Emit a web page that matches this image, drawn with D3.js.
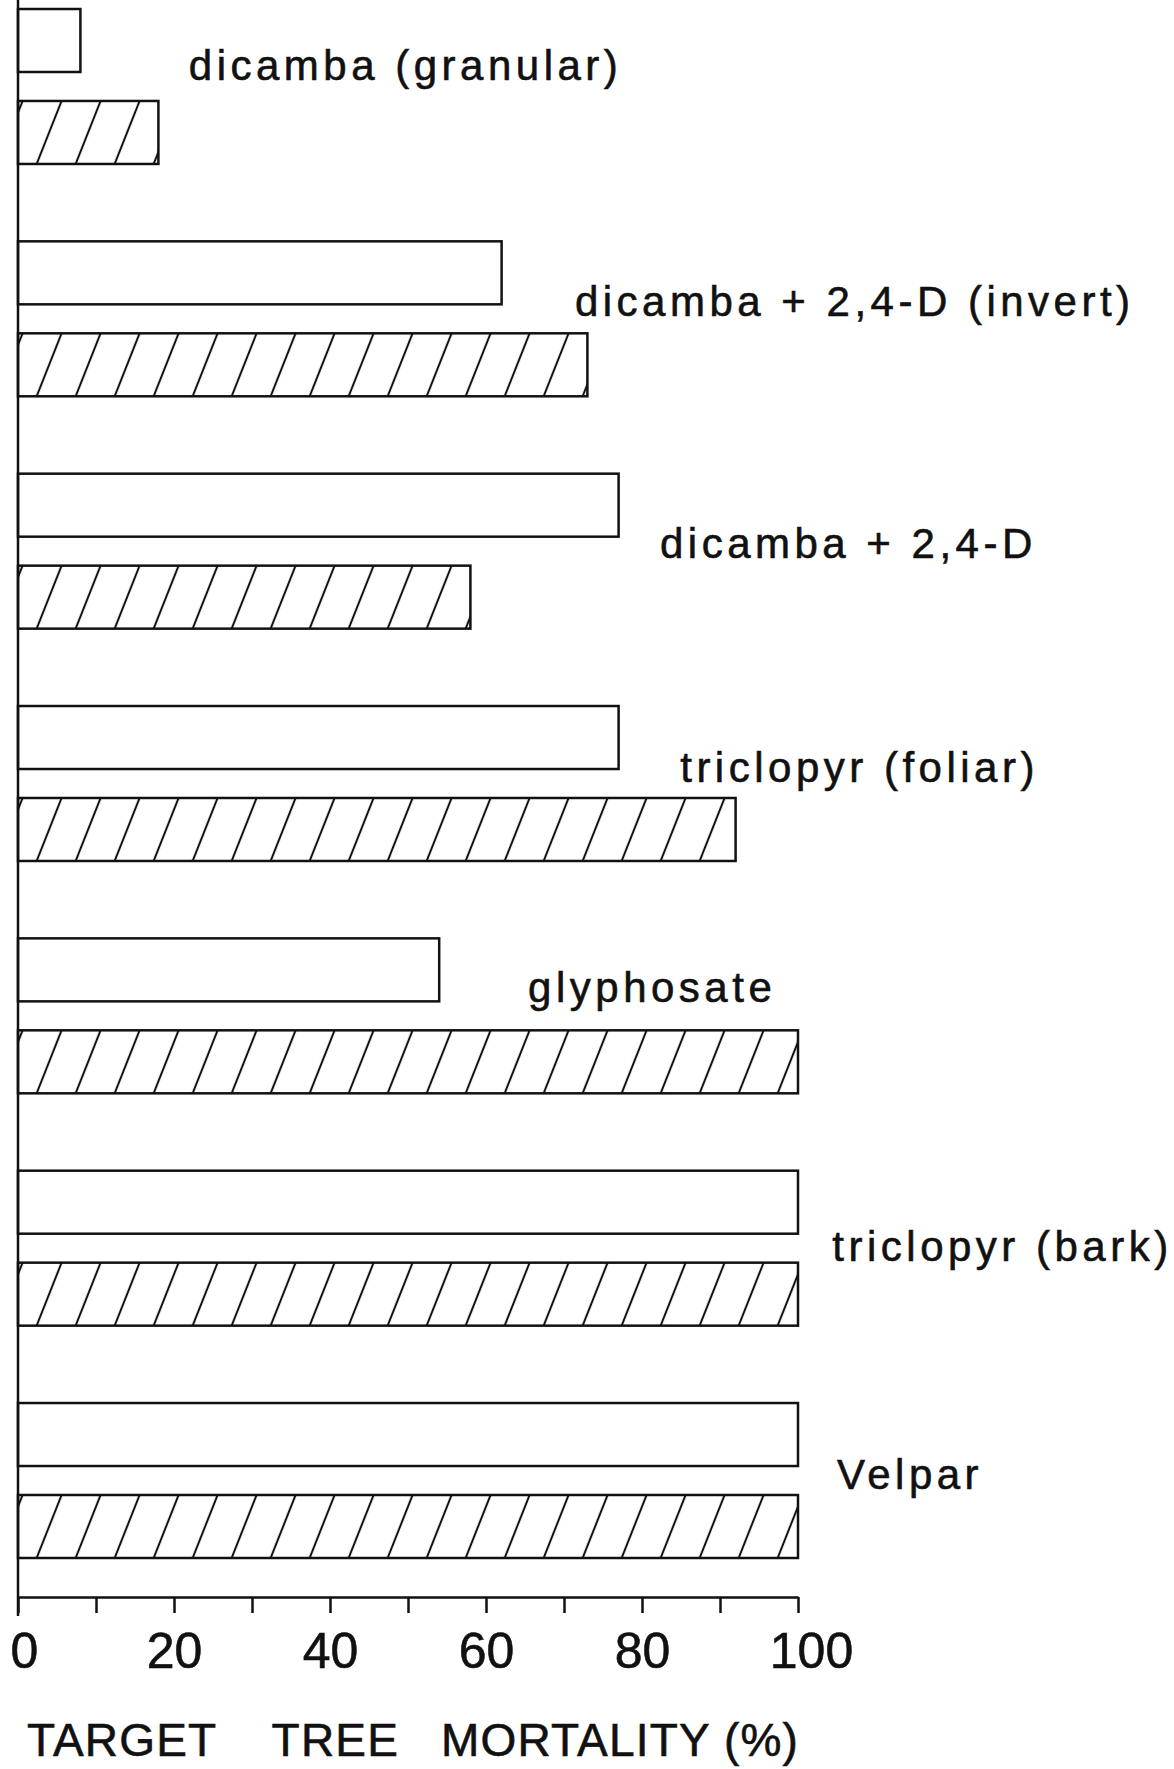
<!DOCTYPE html>
<html>
<head>
<meta charset="utf-8">
<script src="https://cdn.jsdelivr.net/npm/d3@7/dist/d3.min.js"></script>
<style>
  body { margin: 0; background: #fff; }
  #chart-area text { font-family: "Liberation Sans", Arial, sans-serif; fill: #111; stroke: #111; stroke-width: 0.6px; }
</style>
</head>
<body>
<div id="chart-area"></div>
<script>

// treatments, top to bottom
var categories = ["dicamba (granular)", "dicamba + 2,4-D (invert)", "dicamba + 2,4-D",
                  "triclopyr (foliar)", "glyphosate", "triclopyr (bark)", "Velpar"];
// target tree mortality (%), open bars
var openValues  = [8, 62, 77, 77, 54, 100, 100];
// target tree mortality (%), hatched bars
var hatchValues = [18, 73, 58, 92, 100, 100, 100];

var tickValues = [0, 10, 20, 30, 40, 50, 60, 70, 80, 90, 100];
var tickLabels = [0, 20, 40, 60, 80, 100];
var axisTitle  = "TARGET    TREE   MORTALITY (%)";

// where each treatment name sits: x in % units, baseline below the group top (px)
var labelAt = [[21.9, 71], [71.4, 75], [82.3, 84], [84.9, 76], [65.4, 64], [104.4, 90], [105, 86]];

draw_mortality_chart();

function draw_mortality_chart() {

	var width = 1174, height = 1769,
		axisY = 1597;

	var svg = d3.select("#chart-area").append("svg")
		.attr("width", width)
		.attr("height", height)
		.style("background", "#fff");

	// set the ranges
	var x = d3.scaleLinear().domain([0, 100]).range([18, 798]);

	var y = d3.scaleBand()
		.domain(categories)
		.range([9, 1558])
		.paddingInner(0.333)
		.paddingOuter(0);

	var ySub = d3.scaleBand()
		.domain(["open", "hatched"])
		.range([0, y.bandwidth()])
		.paddingInner(0.315);

	// diagonal hatching  ////
	var pat = svg.append("defs").append("pattern")
		.attr("id", "hatch")
		.attr("patternUnits", "userSpaceOnUse")
		.attr("width", 39)
		.attr("height", 63)
		.attr("patternTransform", "skewX(-21.6)");
	pat.append("rect").attr("width", 39).attr("height", 63).attr("fill", "#fff");
	pat.append("line")
		.attr("x1", 20).attr("y1", -5)
		.attr("x2", 20).attr("y2", 68)
		.attr("stroke", "#111")
		.attr("stroke-width", 2.2);

	var data = categories.map(function(c, i) {
		return { name: c, open: openValues[i], hatched: hatchValues[i], i: i };
	});

	var groups = svg.selectAll(".group")
		.data(data)
		.enter().append("g")
		.attr("class", "group")
		.attr("transform", function(d) { return "translate(0," + y(d.name) + ")"; });

	//## open bars
	groups.append("rect")
		.attr("x", x(0))
		.attr("y", ySub("open"))
		.attr("width", function(d) { return x(d.open) - x(0); })
		.attr("height", ySub.bandwidth())
		.attr("fill", "#fff")
		.attr("stroke", "#111")
		.attr("stroke-width", 2.5);

	//## hatched bars
	groups.append("rect")
		.attr("x", x(0))
		.attr("y", ySub("hatched"))
		.attr("width", function(d) { return x(d.hatched) - x(0); })
		.attr("height", ySub.bandwidth())
		.attr("fill", "url(#hatch)")
		.attr("stroke", "#111")
		.attr("stroke-width", 2.5);

	//## treatment names
	groups.append("text")
		.attr("x", function(d) { return x(labelAt[d.i][0]); })
		.attr("y", function(d) { return labelAt[d.i][1]; })
		.style("font-size", "42px")
		.style("letter-spacing", "4.5px")
		.text(function(d) { return d.name; });

	// vertical axis line, running a little past the x axis
	svg.append("line")
		.attr("x1", x(0)).attr("x2", x(0))
		.attr("y1", 0).attr("y2", axisY + 19)
		.attr("stroke", "#111")
		.attr("stroke-width", 2.5);

	// add the x Axis
	var xAxis = svg.append("g")
		.attr("transform", "translate(0," + axisY + ")")
		.call(d3.axisBottom(x)
			.tickValues(tickValues)
			.tickSize(16)
			.tickSizeOuter(0)
			.tickPadding(19)
			.tickFormat(function(d) { return tickLabels.indexOf(d) >= 0 ? d : ""; }));

	xAxis.select(".domain").attr("stroke", "#111").attr("stroke-width", 2.5);
	xAxis.selectAll(".tick line").attr("stroke", "#111").attr("stroke-width", 2.5);
	xAxis.selectAll(".tick text")
		.attr("fill", "#111")
		.attr("dx", function(d) { return d === 0 ? 6 : (d === 100 ? 13 : 0); })
		.style("font-size", "50px")
		.style("font-family", "\"Liberation Sans\", Arial, sans-serif");

	// axis title
	svg.append("text")
		.attr("x", x(0) + 9)
		.attr("y", 1756)
		.style("font-size", "46px")
		.style("letter-spacing", "1.2px")
		.style("white-space", "pre")
		.text(axisTitle);
}
</script>
</body>
</html>
